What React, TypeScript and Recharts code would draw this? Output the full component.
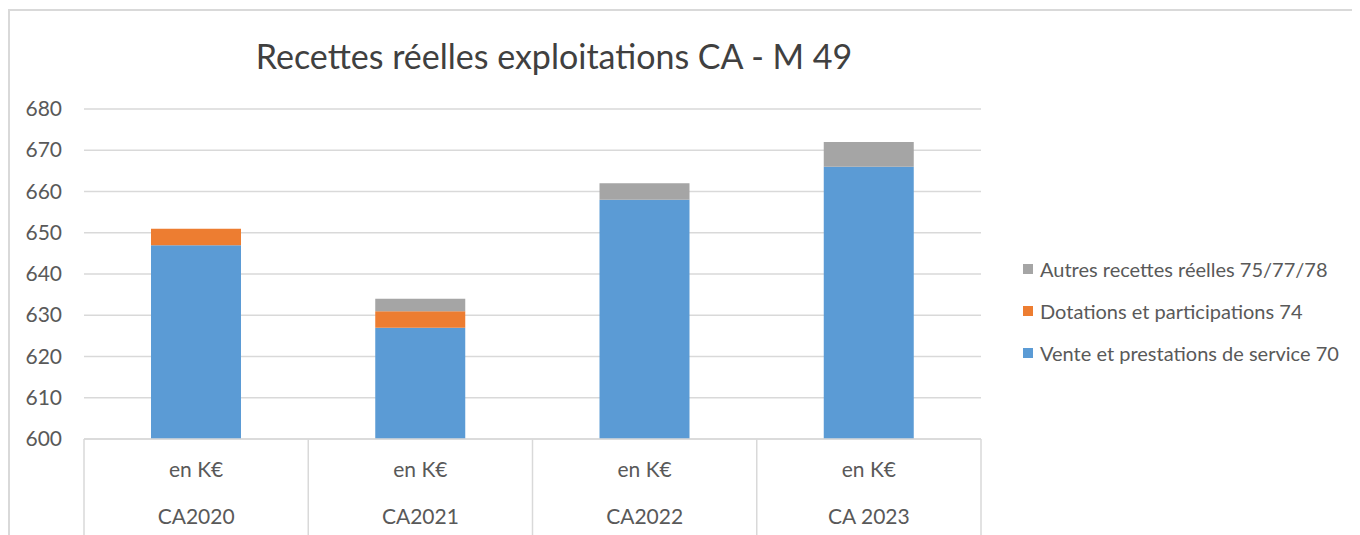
import React from 'react';
import { BarChart, Bar, XAxis, YAxis, CartesianGrid } from 'recharts';

const categories = ['CA2020', 'CA2021', 'CA2022', 'CA 2023'];
const unitLabels = ['en K€', 'en K€', 'en K€', 'en K€'];
const vente = [647, 627, 658, 666];
const dotations = [4, 4, 0, 0];
const autres = [0, 3, 4, 6];
const yTicks = [600, 610, 620, 630, 640, 650, 660, 670, 680];

const series = [
  { key: 'vente', name: 'Vente et prestations de service 70', color: '#5b9bd5' },
  { key: 'dotations', name: 'Dotations et participations 74', color: '#ed7d31' },
  { key: 'autres', name: 'Autres recettes réelles 75/77/78', color: '#a5a5a5' },
];

const data = categories.map((c, i) => ({
  name: c,
  unit: unitLabels[i],
  vente: vente[i],
  dotations: dotations[i],
  autres: autres[i],
}));

const W = 1352;
const H = 527;
const margin = { top: 101, right: 379, left: 0, bottom: 0 };
const yAxisWidth = 76;
const xAxisHeight = 96;
const plotWidth = W - margin.left - margin.right - yAxisWidth;
const band = plotWidth / categories.length;
const font = 'Lato, "Open Sans", sans-serif';
const textColor = '#595959';
const gridColor = '#d9d9d9';

const YTick = (props: any) => {
  const { y, payload } = props;
  return (
    <text x={54} y={y} dy={7} textAnchor="end" fontSize={21} fill={textColor} fontFamily={font}>
      {payload.value}
    </text>
  );
};

const XTick = (props: any) => {
  const { x, payload, index } = props;
  const top = H - xAxisHeight;
  return (
    <g>
      <line x1={x - band / 2} y1={top} x2={x - band / 2} y2={H} stroke={gridColor} strokeWidth={1.5} />
      {index === categories.length - 1 && (
        <line x1={x + band / 2} y1={top} x2={x + band / 2} y2={H} stroke={gridColor} strokeWidth={1.5} />
      )}
      <text x={x} y={462} dy={7} textAnchor="middle" fontSize={21} fill={textColor} fontFamily={font}>
        {unitLabels[index]}
      </text>
      <text x={x} y={509} dy={7} textAnchor="middle" fontSize={21} fill={textColor} fontFamily={font}>
        {payload.value}
      </text>
    </g>
  );
};

export default function App() {
  return (
    <div style={{ position: 'relative', width: W, height: H }}>
      <div
        style={{
          position: 'absolute',
          left: 0,
          top: 1,
          right: -20,
          bottom: -20,
          borderTop: `2px solid ${gridColor}`,
          borderLeft: `2px solid ${gridColor}`,
        }}
      />
      <div
        style={{
          position: 'absolute',
          left: 546 - 400,
          width: 800,
          top: 27,
          textAlign: 'center',
          fontFamily: font,
          fontSize: 34,
          color: '#404040',
          whiteSpace: 'nowrap',
        }}
      >
        Recettes réelles exploitations CA - M 49
      </div>
      <div style={{ position: 'absolute', left: 1015, top: 240, fontFamily: font }}>
        {[...series].reverse().map((s) => (
          <div key={s.key} style={{ display: 'flex', alignItems: 'center', height: 42 }}>
            <span style={{ width: 10, height: 10, background: s.color, marginRight: 7, display: 'inline-block' }} />
            <span style={{ fontSize: 20, color: textColor, whiteSpace: 'nowrap' }}>{s.name}</span>
          </div>
        ))}
      </div>
      <BarChart width={W} height={H} data={data} margin={margin} barSize={90} style={{ position: 'absolute', left: 0, top: 0 }}>
        <CartesianGrid vertical={false} stroke={gridColor} strokeWidth={1.5} />
        <XAxis
          dataKey="name"
          axisLine={{ stroke: gridColor, strokeWidth: 1.5 }}
          tickLine={false}
          tick={<XTick />}
          interval={0}
          height={xAxisHeight}
        />
        <YAxis
          domain={[600, 680]}
          ticks={yTicks}
          allowDataOverflow
          axisLine={false}
          tickLine={false}
          width={yAxisWidth}
          tick={<YTick />}
        />
        {series.map((s) => (
          <Bar key={s.key} dataKey={s.key} name={s.name} stackId="a" fill={s.color} isAnimationActive={false} />
        ))}
      </BarChart>
    </div>
  );
}
